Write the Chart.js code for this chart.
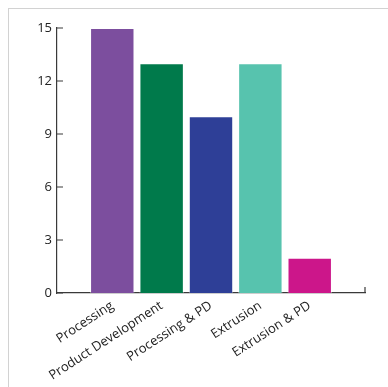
<!DOCTYPE html>
<html>
<head>
<meta charset="utf-8">
<script src="https://cdn.jsdelivr.net/npm/chart.js@4"></script>
<style>
  html, body { margin: 0; padding: 0; background: #fff; }
  #wrap { position: relative; width: 388px; height: 387px; overflow: hidden; }
  #frame { position: absolute; left: 8px; top: 8px; width: 420px; height: 420px;
           border-left: 1.5px solid #d2d2d2; border-top: 1.5px solid #d2d2d2; }
  canvas { position: absolute; left: 0; top: 0; }
</style>
</head>
<body>
<div id="wrap">
  <div id="frame"></div>
  <canvas id="chart" width="388" height="387"></canvas>
</div>
<script>
// data
const categories = ['Processing', 'Product Development', 'Processing & PD', 'Extrusion', 'Extrusion & PD'];
const counts = [15, 13, 10, 13, 2];
const barColors = ['#7c4e9e', '#007a4b', '#2e3f97', '#57c3ae', '#cc168a'];
const yTicks = [0, 3, 6, 9, 12, 15];

const axisColor = '#3a3a3a';

// inward tick marks on the y axis + small end tick on the x axis
const axisMarks = {
  id: 'axisMarks',
  afterDatasetsDraw(chart) {
    const { ctx, chartArea, scales } = chart;
    ctx.save();
    ctx.strokeStyle = axisColor;
    ctx.lineWidth = 1.2;
    ctx.beginPath();
    yTicks.forEach(v => {
      const y = scales.y.getPixelForValue(v);
      ctx.moveTo(chartArea.left, y);
      ctx.lineTo(chartArea.left + 6, y);
    });
    ctx.moveTo(chartArea.right, chartArea.bottom);
    ctx.lineTo(chartArea.right, chartArea.bottom - 6);
    ctx.stroke();
    ctx.restore();
  }
};

new Chart(document.getElementById('chart').getContext('2d'), {
  type: 'bar',
  data: {
    datasets: [{
      data: counts.map((v, i) => ({ x: i, y: v })),
      backgroundColor: barColors,
      borderColor: 'rgba(255,255,255,0.45)',
      borderWidth: 1,
      categoryPercentage: 1,
      barPercentage: 0.9
    }]
  },
  options: {
    responsive: false,
    animation: false,
    layout: { padding: { left: 8, right: 23, top: 28, bottom: 0 } },
    plugins: { legend: { display: false }, tooltip: { enabled: false } },
    scales: {
      x: {
        type: 'linear',
        offset: false,
        min: -1.12,
        max: 5.12,
        afterBuildTicks(s) { s.ticks = categories.map((_, i) => ({ value: i })); },
        afterFit(s) { s.height = 94; },
        grid: { display: false, drawTicks: false, offset: false },
        border: { display: true, color: axisColor, width: 1.2 },
        ticks: {
          autoSkip: false,
          minRotation: 33,
          maxRotation: 33,
          padding: 5,
          color: '#222',
          font: { family: 'Open Sans', size: 13 },
          callback: v => categories[v]
        }
      },
      y: {
        min: 0,
        max: 15,
        afterBuildTicks(s) { s.ticks = yTicks.map(v => ({ value: v })); },
        afterFit(s) { s.width = 49; },
        grid: { display: false, drawTicks: false },
        border: { display: true, color: axisColor, width: 1.2 },
        ticks: {
          padding: 5,
          color: '#222',
          font: { family: 'Open Sans', size: 13 }
        }
      }
    }
  },
  plugins: [axisMarks]
});
</script>
</body>
</html>
